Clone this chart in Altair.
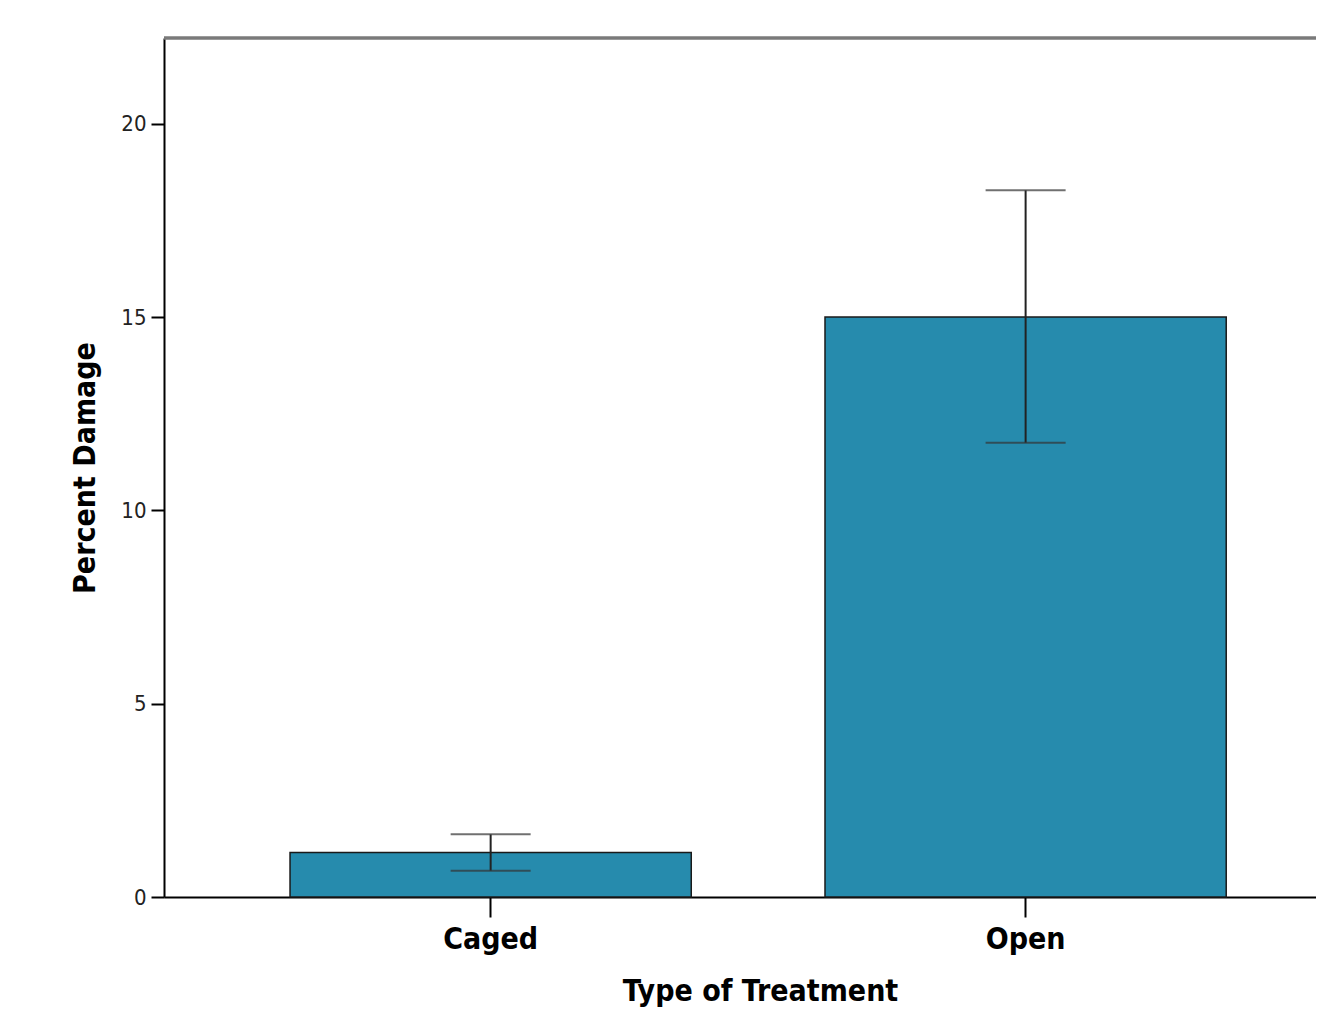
import altair as alt
import pandas as pd

categories = ["Caged", "Open"]
means = [1.15, 15.0]
lower = [0.68, 11.75]
upper = [1.62, 18.28]

df = pd.DataFrame({"cat": categories, "mean": means, "lo": lower, "hi": upper})

FONT = "DejaVu Sans Condensed, DejaVu Sans"
W, H = 1152, 859

xscale = alt.Scale(domain=categories, paddingInner=0.25, paddingOuter=0.2017, align=0.584)
yscale = alt.Scale(domain=[0, 22.22], nice=False)

x = alt.X("cat:N", scale=xscale, sort=categories,
          axis=alt.Axis(title="Type of Treatment", labelAngle=0, labelFont=FONT, labelFontSize=30,
                        labelFontWeight="bold", labelColor="#000", labelPadding=7,
                        titleFont=FONT, titleFontSize=30, titleFontWeight="bold", titleColor="#000",
                        titlePadding=22, titleX=596,
                        domainColor="#000", domainWidth=2, tickColor="#000", tickWidth=2, tickSize=20))
y = alt.Y("mean:Q", scale=yscale,
          axis=alt.Axis(title="Percent Damage", values=[0, 5, 10, 15, 20], labelFont=FONT, labelFontSize=22,
                        labelColor="#222", labelPadding=5, grid=False,
                        titleFont=FONT, titleFontSize=30, titleFontWeight="bold", titleColor="#000",
                        titlePadding=20,
                        domainColor="#000", domainWidth=2, tickColor="#000", tickWidth=2, tickSize=13))

bars = alt.Chart(df).mark_bar(color="#268bad", stroke="#1a1a1a", strokeWidth=1.5).encode(x=x, y=y)

err = alt.Chart(df).mark_rule(color="#222", strokeWidth=2).encode(
    x=alt.X("cat:N", scale=xscale, sort=categories), y=alt.Y("lo:Q", scale=yscale), y2="hi:Q")

cap_lo = alt.Chart(df).mark_tick(color="#333", thickness=2, size=80, orient="horizontal").encode(
    x=alt.X("cat:N", scale=xscale, sort=categories), y=alt.Y("lo:Q", scale=yscale))
cap_hi = alt.Chart(df).mark_tick(color="#333", thickness=2, size=80, orient="horizontal").encode(
    x=alt.X("cat:N", scale=xscale, sort=categories), y=alt.Y("hi:Q", scale=yscale))

top = alt.Chart(df).mark_rule(color="#7a7a7a", strokeWidth=3).encode(
    x=alt.value(0), x2=alt.value(W), y=alt.value(0))

chart = alt.layer(bars, err, cap_lo, cap_hi, top).properties(
    width=W, height=H,
    autosize=alt.AutoSizeParams(type="none"),
    padding={"left": 156, "top": 30, "right": 0, "bottom": 112},
).configure_view(stroke=None).configure(background="white")

chart.save("out.html", embed_options={"renderer": "svg", "actions": False})
